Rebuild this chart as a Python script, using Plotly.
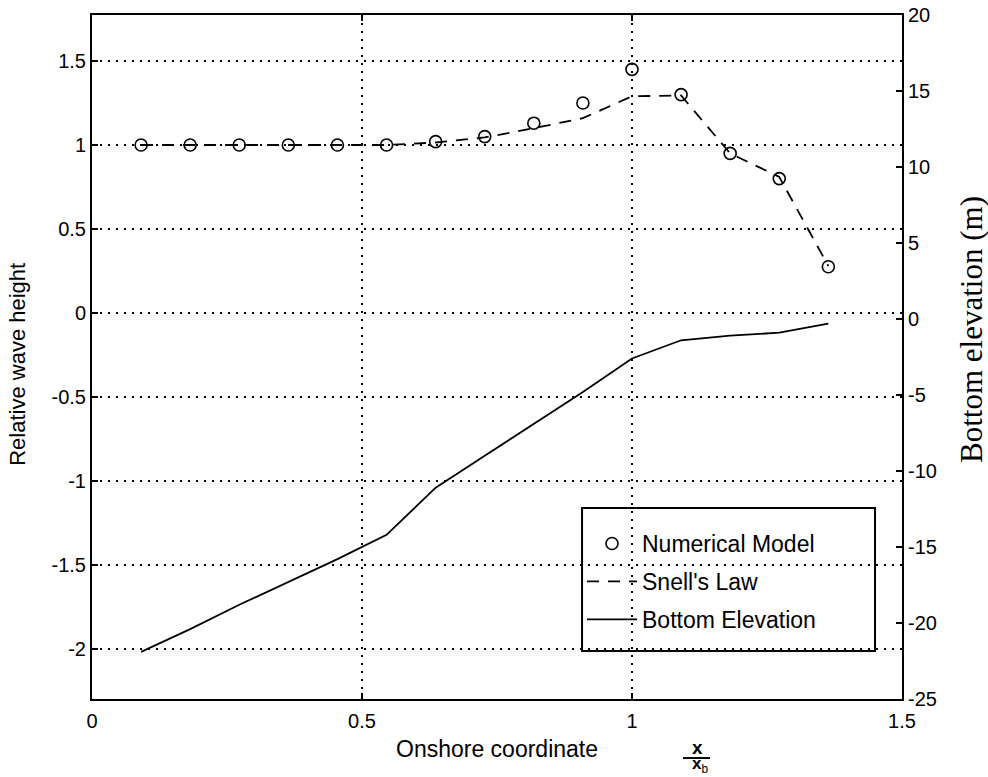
import plotly.graph_objects as go

# ---- data ----
x_pos = [0.0909, 0.1818, 0.2727, 0.3636, 0.4545, 0.5455, 0.6364, 0.7273,
         0.8182, 0.9091, 1.0, 1.0909, 1.1818, 1.2727, 1.3636]
numerical_model = [1.0, 1.0, 1.0, 1.0, 1.0, 1.0, 1.02, 1.05, 1.13, 1.25,
                   1.45, 1.30, 0.95, 0.80, 0.275]
snells_law = [1.0, 1.0, 1.0, 1.0, 1.0, 1.0, 1.015, 1.045, 1.10, 1.16,
              1.29, 1.295, 0.95, 0.81, 0.28]
bottom_elev = [-21.9, -20.4, -18.8, -17.3, -15.8, -14.2, -11.1, -9.0,
               -6.9, -4.8, -2.6, -1.4, -1.1, -0.9, -0.3]

x_ticks = [0, 0.5, 1, 1.5]
x_ticktext = ["0", "0.5", "1", "1.5"]
yl_ticks = [1.5, 1, 0.5, 0, -0.5, -1, -1.5, -2]
yl_ticktext = ["1.5", "1", "0.5", "0", "-0.5", "-1", "-1.5", "-2"]
yr_ticks = [20, 15, 10, 5, 0, -5, -10, -15, -20, -25]
yr_ticktext = ["20", "15", "10", "5", "0", "-5", "-10", "-15", "-20", "-25"]

SANS = "Liberation Sans"
SERIF = "Liberation Serif"

fig = go.Figure()
fig.add_trace(go.Scatter(
    x=x_pos, y=numerical_model, mode="markers", name="Numerical Model",
    marker=dict(symbol="circle-open", size=12, color="black", line=dict(width=1.6)),
    legendgroup="a"))
fig.add_trace(go.Scatter(
    x=x_pos, y=snells_law, mode="lines", name="Snell's Law",
    line=dict(color="black", width=1.8, dash="12px,9px"), legendgroup="b"))
fig.add_trace(go.Scatter(
    x=x_pos, y=bottom_elev, mode="lines", name="Bottom Elevation",
    line=dict(color="black", width=1.8), yaxis="y2", legendgroup="c"))

axis_common = dict(showline=True, linecolor="black", linewidth=2, ticks="inside",
                   ticklen=6, tickcolor="black", tickwidth=1.5, zeroline=False,
                   automargin=False,
                   tickfont=dict(family=SANS, size=20, color="black"))
grid_common = dict(showgrid=True, gridcolor="black", griddash="2px,6px", gridwidth=1.5)

fig.update_layout(
    width=988, height=777,
    margin=dict(l=92, r=86, t=15, b=78, autoexpand=False),
    paper_bgcolor="white", plot_bgcolor="white",
    showlegend=True,
    legend=dict(x=(582 - 92) / 810, y=0.2587, xanchor="left", yanchor="top",
                bgcolor="rgba(0,0,0,0)", borderwidth=0, itemwidth=50,
                font=dict(family=SANS, size=23, color="black"),
                traceorder="grouped", tracegroupgap=5),
    xaxis=dict(range=[0, 1.5], tickvals=x_ticks, ticktext=x_ticktext,
               mirror="ticks", ticklabelstandoff=3, **grid_common, **axis_common),
    yaxis=dict(range=[-2.298, 1.774], tickvals=yl_ticks, ticktext=yl_ticktext,
               **grid_common, **axis_common),
    yaxis2=dict(range=[-25, 20], tickvals=yr_ticks, ticktext=yr_ticktext,
                overlaying="y", side="right", showgrid=False, **axis_common),
)

# legend frame
fig.add_shape(type="rect", xref="paper", yref="paper", x0=0.605, x1=0.9667,
              y0=0.0702, y1=0.2792, line=dict(color="black", width=2),
              fillcolor="rgba(0,0,0,0)", layer="above")

fig.add_annotation(text="Onshore coordinate", xref="paper", yref="paper",
                   x=0.5, y=-0.073, showarrow=False, xanchor="center", yanchor="middle",
                   font=dict(family=SANS, size=23, color="black"))
fig.add_annotation(text="Relative wave height", xref="paper", yref="paper",
                   x=-0.0914, y=0.49, showarrow=False, textangle=-90,
                   xanchor="center", yanchor="middle",
                   font=dict(family=SANS, size=22, color="black"))
fig.add_annotation(text="Bottom elevation (m)", xref="paper", yref="paper",
                   x=1.0864, y=0.541, showarrow=False, textangle=-90,
                   xanchor="center", yanchor="middle",
                   font=dict(family=SERIF, size=31, color="black"))
fig.add_annotation(text="<b>x</b>", xref="paper", yref="paper",
                   x=0.747, y=-0.0716, showarrow=False, xanchor="center", yanchor="middle",
                   font=dict(family=SANS, size=19, color="black"))
fig.add_annotation(text="<b>x</b><sub>b</sub>", xref="paper", yref="paper",
                   x=0.75, y=-0.0965, showarrow=False, xanchor="center", yanchor="middle",
                   font=dict(family=SANS, size=17, color="black"))
fig.add_shape(type="line", xref="paper", yref="paper", x0=0.7296, x1=0.763,
              y0=-0.0863, y1=-0.0863, line=dict(color="black", width=2))

fig.write_html("out.html")
